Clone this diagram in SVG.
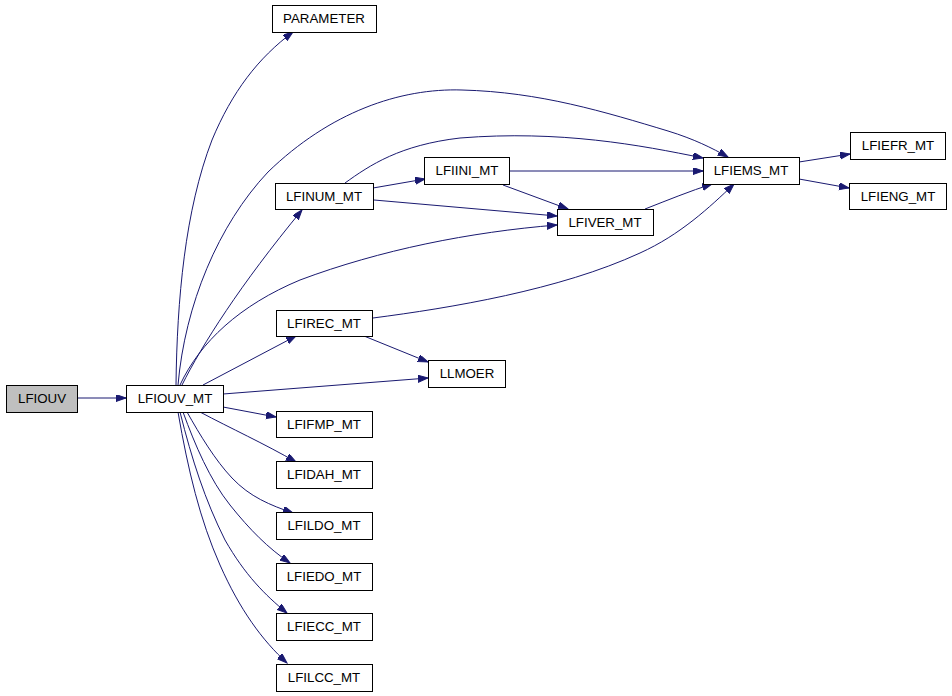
<svg xmlns="http://www.w3.org/2000/svg" width="952" height="696" viewBox="0 0 952 696">
<style>
.n rect{fill:#fff;stroke:#000;stroke-width:1}
.n text{font-family:"Liberation Sans",Arial,sans-serif;font-size:13.3px;text-anchor:middle;fill:#000}
.e path{fill:none;stroke:#191970;stroke-width:1;marker-end:url(#a)}
</style>
<defs>
<marker id="a" markerUnits="userSpaceOnUse" markerWidth="11" markerHeight="8" refX="10" refY="3.5" orient="auto" viewBox="0 0 11 8">
<path d="M0,0 L10,3.5 L0,7 z" fill="#191970" stroke="#191970"/>
</marker>
</defs>
<rect width="952" height="696" fill="#fff"/>
<g class="e" id="edges">
<path d="M77,398 L126,398"/>
<path d="M176,385 C177,300 185,210 212,140 C232,92 258,58 293,32"/>
<path d="M178,385 C185,305 218,225 268,172 C330,112 400,88 462,90 C540,92 605,112 668,131 C694,139 712,148 728,157"/>
<path d="M180,385 C200,342 240,305 300,280 C380,250 470,232 557,225"/>
<path d="M182,385 C202,345 240,285 302,210"/>
<path d="M203,385 L296,336"/>
<path d="M223,394 L428,378"/>
<path d="M223,407 L276,417"/>
<path d="M200,412 C230,428 265,444 296,462"/>
<path d="M187,412 C200,435 215,460 232,478 C250,497 270,505 293,513"/>
<path d="M183,412 C195,445 210,480 230,505 C250,530 268,548 290,563"/>
<path d="M180,412 C192,460 205,500 225,540 C245,575 265,595 287,613"/>
<path d="M178,412 C188,470 200,520 220,565 C240,610 262,640 287,663"/>
<path d="M373,188 L425,179"/>
<path d="M374,200 L557,216"/>
<path d="M345,183 C370,165 400,145 460,138 C560,130 640,145 703,158"/>
<path d="M509,171 L703,171"/>
<path d="M503,185 L568,209"/>
<path d="M645,209 C668,200 690,191 712,184"/>
<path d="M373,318 C450,308 560,290 640,253 C680,235 710,207 734,184"/>
<path d="M364,336 L428,362"/>
<path d="M799,162 L850,154"/>
<path d="M799,179 L849,188"/>
</g>
<g class="n" id="LFIOUV"><rect x="6.5" y="385.5" width="71" height="27" style="fill:#bfbfbf"/><text x="42" y="403">LFIOUV</text></g>
<g class="n" id="LFIOUV_MT"><rect x="126.5" y="385.5" width="97" height="27"/><text x="175" y="403">LFIOUV_MT</text></g>
<g class="n" id="PARAMETER"><rect x="272.5" y="5.5" width="104" height="27"/><text x="324" y="23">PARAMETER</text></g>
<g class="n" id="LFINUM_MT"><rect x="275.5" y="183.5" width="98" height="26"/><text x="324" y="201">LFINUM_MT</text></g>
<g class="n" id="LFIINI_MT"><rect x="424.5" y="157.5" width="85" height="27"/><text x="467" y="175">LFIINI_MT</text></g>
<g class="n" id="LFIVER_MT"><rect x="557.5" y="209.5" width="96" height="26"/><text x="605" y="227">LFIVER_MT</text></g>
<g class="n" id="LFIEMS_MT"><rect x="703.5" y="157.5" width="96" height="27"/><text x="751" y="175">LFIEMS_MT</text></g>
<g class="n" id="LFIEFR_MT"><rect x="850.5" y="132.5" width="95" height="27"/><text x="898" y="150">LFIEFR_MT</text></g>
<g class="n" id="LFIENG_MT"><rect x="849.5" y="183.5" width="97" height="26"/><text x="898" y="201">LFIENG_MT</text></g>
<g class="n" id="LFIREC_MT"><rect x="276.5" y="310.5" width="96" height="26"/><text x="324" y="328">LFIREC_MT</text></g>
<g class="n" id="LLMOER"><rect x="428.5" y="360.5" width="77" height="27"/><text x="467" y="378">LLMOER</text></g>
<g class="n" id="LFIFMP_MT"><rect x="276.5" y="411.5" width="96" height="26"/><text x="324" y="429">LFIFMP_MT</text></g>
<g class="n" id="LFIDAH_MT"><rect x="276.5" y="461.5" width="96" height="27"/><text x="324" y="479">LFIDAH_MT</text></g>
<g class="n" id="LFILDO_MT"><rect x="276.5" y="512.5" width="96" height="27"/><text x="324" y="530">LFILDO_MT</text></g>
<g class="n" id="LFIEDO_MT"><rect x="276.5" y="563.5" width="96" height="27"/><text x="324" y="581">LFIEDO_MT</text></g>
<g class="n" id="LFIECC_MT"><rect x="276.5" y="613.5" width="96" height="27"/><text x="324" y="631">LFIECC_MT</text></g>
<g class="n" id="LFILCC_MT"><rect x="276.5" y="664.5" width="96" height="27"/><text x="324" y="682">LFILCC_MT</text></g>
</svg>
